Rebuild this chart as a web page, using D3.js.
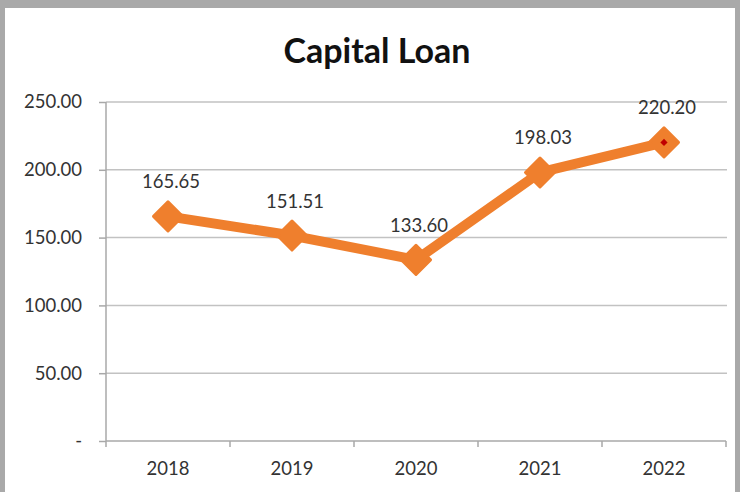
<!DOCTYPE html>
<html>
<head>
<meta charset="utf-8">
<script src="https://cdn.jsdelivr.net/npm/d3@7"></script>
<style>
  html, body { margin: 0; padding: 0; background: #a9a9a9; }
  svg { display: block; }
</style>
</head>
<body>
<svg id="chart" width="740" height="492"></svg>
<script>
// Capital loan by year
const years = ["2018", "2019", "2020", "2021", "2022"];
const loanValues = [165.65, 151.51, 133.60, 198.03, 220.20];
const yTicks = [0, 50, 100, 150, 200, 250];

const W = 740, H = 492;
const svg = d3.select("#chart");

// frame
svg.append("rect").attr("x", 5).attr("y", 8).attr("width", 730).attr("height", H - 8).attr("fill", "#ffffff");

const font = "Lato, 'Open Sans', 'Liberation Sans', sans-serif";
const plot = { left: 106, right: 726, top: 102, bottom: 441 };

const x = d3.scaleBand().domain(years).range([plot.left, plot.right]);
const y = d3.scaleLinear().domain([0, 250]).range([plot.bottom, plot.top]);

// title
svg.append("text")
  .attr("x", 377).attr("y", 63)
  .attr("text-anchor", "middle")
  .attr("font-family", font).attr("font-weight", "bold")
  .attr("font-size", 34).attr("fill", "#111")
  .text("Capital Loan");

// gridlines
svg.append("g").selectAll("line")
  .data(yTicks.filter(d => d > 0))
  .join("line")
  .attr("x1", plot.left).attr("x2", plot.right + 1)
  .attr("y1", d => y(d)).attr("y2", d => y(d))
  .attr("stroke", "#c2c2c2").attr("stroke-width", 1.5);

// y axis
const yAxis = d3.axisLeft(y).tickValues(yTicks).tickSize(7).tickPadding(17)
  .tickFormat(d => d === 0 ? "-" : d3.format(".2f")(d));
const gy = svg.append("g").attr("transform", `translate(${plot.left},0)`).call(yAxis);
gy.select(".domain").attr("stroke", "#a8a8a8").attr("stroke-width", 1.5)
  .attr("d", `M0,${plot.top}V${plot.bottom + 6}`);
gy.selectAll(".tick line").attr("stroke", "#a8a8a8").attr("stroke-width", 1.5);
gy.selectAll(".tick text").attr("font-family", font).attr("font-size", 18.5).attr("fill", "#333");

// x axis
const gx = svg.append("g").attr("transform", `translate(0,${plot.bottom})`)
  .call(d3.axisBottom(x).tickSize(0).tickPadding(21));
gx.select(".domain").attr("stroke", "#a8a8a8").attr("stroke-width", 1.5)
  .attr("d", `M${plot.left},0H${plot.right}`);
gx.selectAll(".tick text").attr("font-family", font).attr("font-size", 18.5).attr("fill", "#333");
// category boundary ticks
const bounds = years.slice(1).map(d => x(d)).concat([plot.right]);
svg.append("g").selectAll("line").data(bounds).join("line")
  .attr("x1", d => d).attr("x2", d => d)
  .attr("y1", plot.bottom).attr("y2", plot.bottom + 6)
  .attr("stroke", "#a8a8a8").attr("stroke-width", 1.5);

const cx = d => x(d) + x.bandwidth() / 2;
const orange = "#ef7f2d";

// line
const line = d3.line().x((d, i) => cx(years[i])).y(d => y(d));
svg.append("path").datum(loanValues)
  .attr("d", line)
  .attr("fill", "none").attr("stroke", orange)
  .attr("stroke-width", 10).attr("stroke-linejoin", "round");

// diamond markers
svg.append("g").selectAll("path").data(loanValues).join("path")
  .attr("transform", (d, i) => `translate(${cx(years[i])},${y(d)}) rotate(45)`)
  .attr("d", d3.symbol().type(d3.symbolSquare).size(420))
  .attr("fill", orange).attr("stroke", orange)
  .attr("stroke-width", 3).attr("stroke-linejoin", "round");

// highlight on last point
const last = loanValues.length - 1;
svg.append("path")
  .attr("transform", `translate(${cx(years[last])},${y(loanValues[last])}) rotate(45)`)
  .attr("d", d3.symbol().type(d3.symbolSquare).size(26))
  .attr("fill", "#c00000");

// data labels
svg.append("g").selectAll("text").data(loanValues).join("text")
  .attr("x", (d, i) => cx(years[i]) + 3)
  .attr("y", d => y(d) - 28)
  .attr("text-anchor", "middle")
  .attr("font-family", font).attr("font-size", 18.5).attr("fill", "#333")
  .text(d => d3.format(".2f")(d));
</script>
</body>
</html>
